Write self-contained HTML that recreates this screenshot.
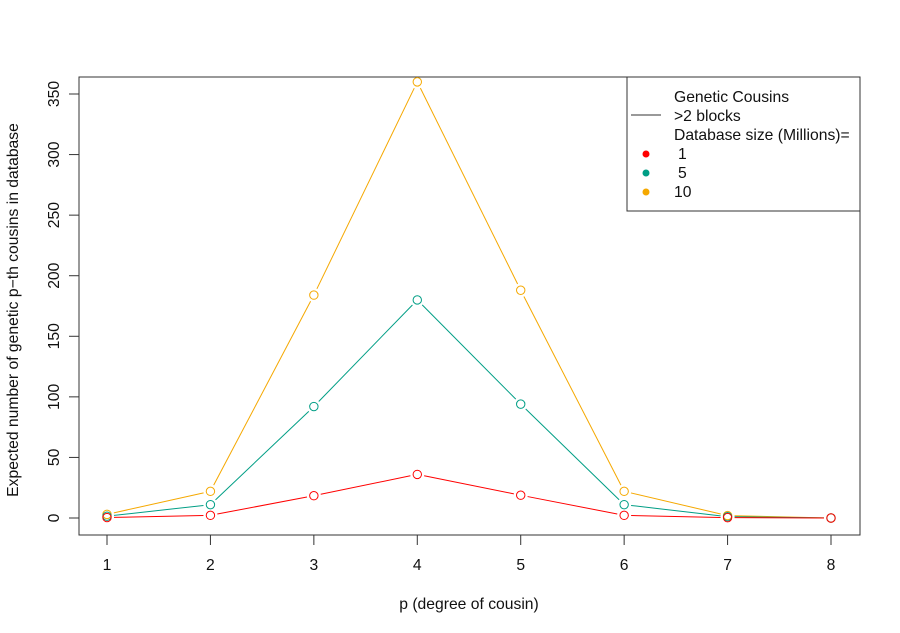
<!DOCTYPE html>
<html><head><meta charset="utf-8"><style>
html,body{margin:0;padding:0;background:#fff}
svg{display:block;font-family:"Liberation Sans",Arial,sans-serif}
</style></head><body>
<svg id="s" width="900" height="633" viewBox="0 0 900 633" xmlns="http://www.w3.org/2000/svg">
<rect x="0" y="0" width="900" height="633" fill="#fff"/>
<rect x="79" y="77" width="781" height="458" fill="none" stroke="#333" stroke-width="1"/>
<g id="ax" stroke="#333" stroke-width="1"></g>
<g id="lbl" font-size="15.7" fill="#111"></g>
<text x="469" y="609" font-size="15.7" text-anchor="middle" fill="#111">p (degree of cousin)</text>
<text transform="translate(18,310) rotate(-90)" font-size="15.7" text-anchor="middle" fill="#111">Expected number of genetic p−th cousins in database</text>
<g id="series"></g>
<rect x="627" y="77" width="233" height="134" fill="#fff" stroke="#333" stroke-width="1"/>
<line x1="631" y1="115" x2="661" y2="115" stroke="#333"/>
<g font-size="15.7" fill="#111">
<text x="674" y="102">Genetic Cousins</text>
<text x="674" y="121">&gt;2 blocks</text>
<text x="674" y="140">Database size (Millions)=</text>
<text x="678" y="159">1</text>
<text x="678" y="178">5</text>
<text x="674" y="197">10</text>
</g>
<circle cx="646" cy="154" r="3.5" fill="#f00"/>
<circle cx="646" cy="173" r="3.5" fill="#009e85"/>
<circle cx="646" cy="192" r="3.5" fill="#f5a800"/>
</svg>
<script>
var NS="http://www.w3.org/2000/svg";
function X(v){return 107+(v-1)*(831-107)/7}
function Y(v){return 518-v*424/350}
function el(t,a,p){var e=document.createElementNS(NS,t);for(var k in a)e.setAttribute(k,a[k]);p.appendChild(e);return e}
var ax=document.getElementById('ax'),lbl=document.getElementById('lbl');
for(var i=1;i<=8;i++){el('line',{x1:X(i),y1:535,x2:X(i),y2:545},ax);var t=el('text',{x:X(i),y:570,'text-anchor':'middle'},lbl);t.textContent=i;}
for(var v=0;v<=350;v+=50){el('line',{x1:69,y1:Y(v),x2:79,y2:Y(v)},ax);var t=el('text',{transform:'translate(59,'+Y(v)+') rotate(-90)','text-anchor':'middle'},lbl);t.textContent=v;}
var data=[["#f5a800",[3,22,184,360,188,22,2,0]],["#009e85",[1.5,11,92,180,94,11,1.1,0]],["#f00",[0.4,2.2,18.4,36,18.8,2.2,0.3,0]]];
var g=document.getElementById('series');
data.forEach(function(d){var c=d[0],a=d[1],r=4.2,gap=7;
for(var i=0;i<a.length-1;i++){var x1=X(i+1),y1=Y(a[i]),x2=X(i+2),y2=Y(a[i+1]);var dx=x2-x1,dy=y2-y1,L=Math.hypot(dx,dy);if(L>2*gap){var ux=dx/L,uy=dy/L;el('line',{x1:x1+ux*gap,y1:y1+uy*gap,x2:x2-ux*gap,y2:y2-uy*gap,stroke:c,'stroke-width':1},g);}}
for(var i=0;i<a.length;i++)el('circle',{cx:X(i+1),cy:Y(a[i]),r:r,fill:'none',stroke:c,'stroke-width':1},g);
});
</script>
</body></html>
